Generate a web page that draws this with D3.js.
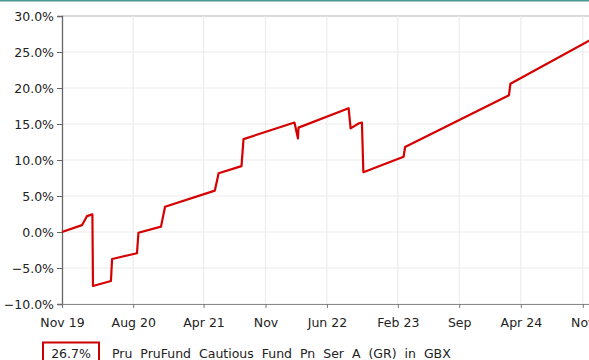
<!DOCTYPE html>
<html>
<head>
<meta charset="utf-8">
<script src="https://cdn.jsdelivr.net/npm/d3@7"></script>
<style>
  html, body { margin: 0; padding: 0; background: #fff; }
  svg { display: block; font-family: "DejaVu Sans", Verdana, sans-serif; }
</style>
</head>
<body>
<svg id="chart" width="589" height="360"></svg>
<script>
// Cumulative performance, % (PruFund smoothed price with unit price adjustments)
const dates = [
  "2019-11-29", "2020-02-06", "2020-02-23", "2020-03-13", "2020-03-15",
  "2020-05-16", "2020-05-20", "2020-08-14", "2020-08-19", "2020-11-05",
  "2020-11-19", "2021-05-10", "2021-05-23", "2021-08-10", "2021-08-17",
  "2022-02-09", "2022-02-21", "2022-02-23", "2022-08-15", "2022-08-22",
  "2022-09-20", "2022-09-30", "2022-10-05", "2023-02-21", "2023-02-26",
  "2024-02-20", "2024-02-25", "2024-11-29"
];
const values = [
  0.0, 0.95, 2.2, 2.45, -7.5,
  -6.8, -3.75, -2.95, -0.1, 0.75,
  3.5, 5.75, 8.15, 9.15, 12.9,
  15.2, 13.0, 14.5, 17.2, 14.4,
  15.1, 15.2, 8.3, 10.45, 11.8,
  19.0, 20.6, 26.7
];
const xTickDates = ["2019-11-29", "2020-08-01", "2021-04-01", "2021-11-01", "2022-06-01",
                    "2023-02-01", "2023-09-01", "2024-04-01", "2024-11-01"];
const xTickLabels = ["Nov 19", "Aug 20", "Apr 21", "Nov", "Jun 22", "Feb 23", "Sep", "Apr 24", "Nov"];
const yTicks = [-10, -5, 0, 5, 10, 15, 20, 25, 30];
const legendValue = "26.7%";
const seriesName = "Pru PruFund Cautious Fund Pn Ser A (GR) in GBX";

const parse = d3.utcParse("%Y-%m-%d");
const data = dates.map((d, i) => ({ date: parse(d), value: values[i] }));

const svg = d3.select("#chart");
const plotLeft = 62, plotTop = 16, plotBottom = 304, plotRight = 600;
const startDate = parse(dates[0]), endDate = parse(dates[dates.length - 1]);
const pxPerDay = 0.2895;
const spanDays = (endDate - startDate) / 864e5;

const x = d3.scaleUtc().domain([startDate, endDate]).range([plotLeft, plotLeft + spanDays * pxPerDay]);
const y = d3.scaleLinear().domain([-10, 30]).range([plotBottom, plotTop]);

// top accent rule
svg.append("rect").attr("x", 0).attr("y", 0).attr("width", 589).attr("height", 1.5).attr("fill", "#4a978d");

// gridlines
const grid = svg.append("g");
grid.selectAll("line.h").data(yTicks).join("line")
  .attr("x1", plotLeft).attr("x2", plotRight)
  .attr("y1", d => y(d)).attr("y2", d => y(d))
  .attr("stroke", d => d === 30 ? "#dadada" : "#ececec")
  .attr("stroke-width", d => d === 30 ? 2 : 1.2);
grid.selectAll("line.v").data(xTickDates.slice(1)).join("line")
  .attr("x1", d => x(parse(d))).attr("x2", d => x(parse(d)))
  .attr("y1", plotTop).attr("y2", plotBottom)
  .attr("stroke", "#ececec").attr("stroke-width", 1.2);

// y axis
const yAxis = svg.append("g").attr("transform", `translate(${plotLeft},0)`)
  .call(d3.axisLeft(y).tickValues(yTicks).tickSize(5).tickPadding(3)
    .tickFormat(d => d3.format(".1f")(d) + "%"));
yAxis.select(".domain").attr("stroke", "#666").attr("stroke-width", 1.3);
yAxis.selectAll(".tick line").attr("stroke", "#666");
yAxis.selectAll("text").attr("font-size", "12.5px").attr("fill", "#222")
  .attr("font-family", "DejaVu Sans, Verdana, sans-serif");

// x axis
const xAxis = svg.append("g").attr("transform", `translate(0,${plotBottom})`)
  .call(d3.axisBottom(x).tickValues(xTickDates.map(parse)).tickSize(4).tickPadding(10)
    .tickFormat((d, i) => xTickLabels[i]));
xAxis.select(".domain").attr("stroke", "#888").attr("stroke-width", 1.2);
xAxis.selectAll(".tick line").attr("stroke", "#777");
xAxis.selectAll("text").attr("font-size", "12.5px").attr("fill", "#222")
  .attr("font-family", "DejaVu Sans, Verdana, sans-serif");

// performance line
const line = d3.line().x(d => x(d.date)).y(d => y(d.value));
svg.append("path").datum(data)
  .attr("d", line)
  .attr("fill", "none")
  .attr("stroke", "#d60000")
  .attr("stroke-width", 2.2)
  .attr("stroke-linejoin", "round");

// legend
const lg = svg.append("g");
lg.append("rect").attr("x", 43).attr("y", 342.5).attr("width", 56).attr("height", 22)
  .attr("fill", "none").attr("stroke", "#cc0000").attr("stroke-width", 2);
lg.append("text").attr("x", 71).attr("y", 357.5).attr("text-anchor", "middle")
  .attr("font-size", "12.5px").attr("fill", "#222").text(legendValue);
lg.append("text").attr("x", 112).attr("y", 357.5)
  .attr("font-size", "12.5px").attr("fill", "#222").attr("word-spacing", "4px")
  .text(seriesName);
</script>
</body>
</html>
